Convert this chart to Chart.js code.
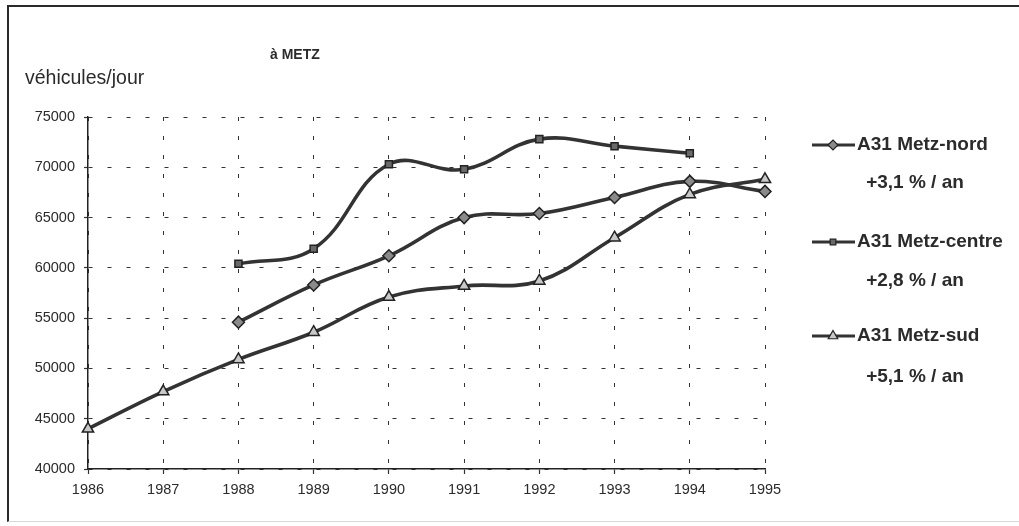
<!DOCTYPE html>
<html>
<head>
<meta charset="utf-8">
<script src="https://cdn.jsdelivr.net/npm/chart.js@4"></script>
<style>
    html, body { margin: 0; padding: 0; background: #fff; }
    #wrap { position: relative; width: 1019px; height: 526px; }
    #frame {
        position: absolute; left: 7px; top: 5px; right: 0; height: 514px;
        border-top: 2px solid #2a2a2a; border-left: 2px solid #2a2a2a;
        border-bottom: 1px solid #d8d8d8;
    }
    canvas { position: absolute; left: 0; top: 0; }
</style>
</head>
<body>
<div id="wrap">
    <div id="frame"></div>
    <canvas id="trafic" width="1019" height="526"></canvas>
</div>
<script>
// Trafic journalier moyen sur l'A31 à Metz
const years = ['1986', '1987', '1988', '1989', '1990', '1991', '1992', '1993', '1994', '1995'];
const metzNord = [null, null, 54600, 58300, 61200, 65000, 65400, 67000, 68600, 67600];
const metzCentre = [null, null, 60400, 61900, 70300, 69800, 72800, 72100, 71400, null];
const metzSud = [44000, 47700, 50900, 53600, 57100, 58200, 58700, 63000, 67300, 68800];
const seriesNames = ['A31 Metz-nord', 'A31 Metz-centre', 'A31 Metz-sud'];
const growthRates = ['+3,1 % / an', '+2,8 % / an', '+5,1 % / an'];
const yTicks = [40000, 45000, 50000, 55000, 60000, 65000, 70000, 75000];

const FONT = 'Liberation Sans, Arial, sans-serif';
const INK = '#2b2b2b';

function lineDataset(label, data, style, fill, radius) {
    return {
        label,
        data,
        borderColor: '#333',
        borderWidth: 3.6,
        tension: 0.4,
        pointStyle: style,
        pointRadius: radius,
        pointBackgroundColor: fill,
        pointBorderColor: '#222',
        pointBorderWidth: 1.5,
        spanGaps: false
    };
}

// Titre, unité et légende à droite
const decorations = {
    id: 'decorations',
    afterDraw(chart) {
        const ctx = chart.ctx;
        ctx.save();
        ctx.fillStyle = INK;
        ctx.textBaseline = 'middle';

        ctx.font = 'bold 14px ' + FONT;
        ctx.textAlign = 'left';
        ctx.fillText('à METZ', 270, 55);

        ctx.font = '19.5px ' + FONT;
        ctx.fillText('véhicules/jour', 25, 79);

        const rowY = [145, 242, 336];
        const rateY = [183, 281, 377];
        chart.data.datasets.forEach((ds, i) => {
            const y = rowY[i];
            ctx.strokeStyle = '#333';
            ctx.lineWidth = 3.2;
            ctx.beginPath();
            ctx.moveTo(812, y);
            ctx.lineTo(855, y);
            ctx.stroke();

            ctx.fillStyle = ds.pointBackgroundColor;
            ctx.strokeStyle = ds.pointBorderColor;
            ctx.lineWidth = 1.2;
            Chart.helpers.drawPoint(ctx, {
                pointStyle: ds.pointStyle,
                radius: ds.pointRadius - 1,
                rotation: 0,
                borderWidth: 1.2
            }, 833, y);

            ctx.fillStyle = INK;
            ctx.font = 'bold 19px ' + FONT;
            ctx.textAlign = 'left';
            ctx.fillText(ds.label, 857, y);

            ctx.font = 'bold 19px ' + FONT;
            ctx.textAlign = 'center';
            ctx.fillText(growthRates[i], 915, rateY[i]);
        });
        ctx.restore();
    }
};

const gridStyle = {
    color: '#333',
    lineWidth: 1,
    tickColor: '#333',
    tickBorderDash: [],
    tickWidth: 1.2
};
const axisBorder = { display: true, color: '#222', width: 1.5, dash: [4, 15] };

new Chart(document.getElementById('trafic'), {
    type: 'line',
    data: {
        labels: years,
        datasets: [
            lineDataset(seriesNames[0], metzNord, 'rectRot', '#8a8a8a', 6),
            lineDataset(seriesNames[1], metzCentre, 'rect', '#6a6a6a', 5),
            lineDataset(seriesNames[2], metzSud, 'triangle', '#c8c8c8', 6.5)
        ]
    },
    options: {
        responsive: false,
        animation: false,
        layout: { padding: { left: 0, top: 117, right: 254, bottom: 0 } },
        plugins: {
            legend: { display: false },
            tooltip: { enabled: false }
        },
        scales: {
            x: {
                offset: false,
                grid: Object.assign({ tickLength: 5 }, gridStyle),
                border: axisBorder,
                ticks: {
                    color: INK,
                    font: { family: FONT, size: 14.5 },
                    padding: 7,
                    maxRotation: 0,
                    autoSkip: false
                },
                afterFit(scale) { scale.height = 57; }
            },
            y: {
                min: 40000,
                max: 75000,
                afterBuildTicks(scale) {
                    scale.ticks = yTicks.map(v => ({ value: v }));
                },
                grid: Object.assign({ tickLength: 4 }, gridStyle),
                border: axisBorder,
                ticks: {
                    color: INK,
                    font: { family: FONT, size: 14.5 },
                    padding: 9,
                    callback: v => String(v)
                },
                afterFit(scale) { scale.width = 88; }
            }
        }
    },
    plugins: [decorations]
});
</script>
</body>
</html>
